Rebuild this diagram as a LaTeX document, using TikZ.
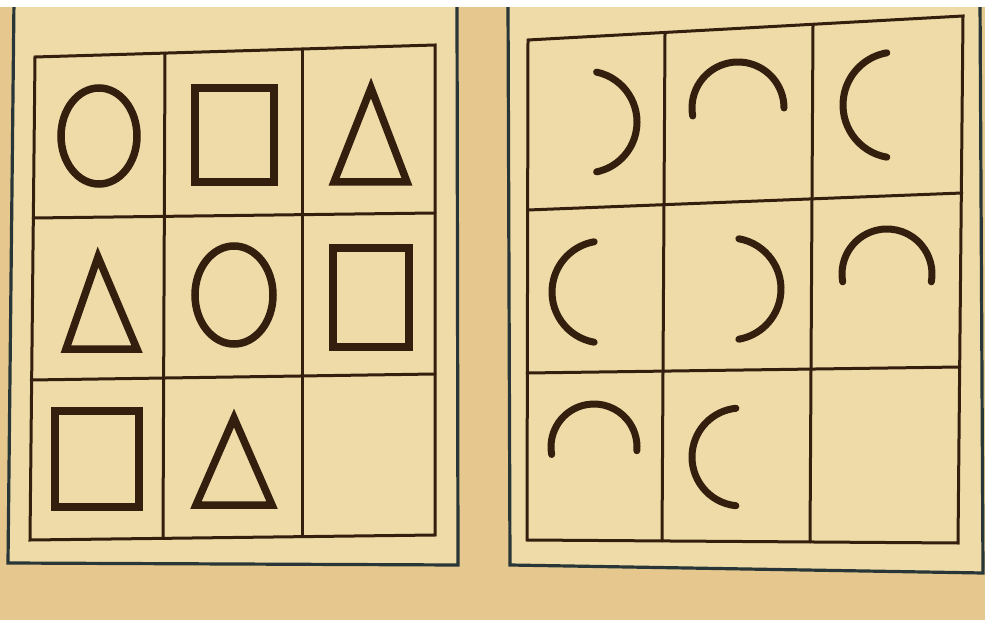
\documentclass[tikz,border=0pt]{standalone}
\usepackage{tikz}
\usetikzlibrary{calc}
\definecolor{fondo}{RGB}{230,200,142}
\definecolor{papel}{RGB}{239,219,168}
\definecolor{borde}{RGB}{40,54,56}
\definecolor{tinta}{RGB}{52,30,14}
\tikzset{
  hoja/.style={draw=borde, line width=3.2pt, fill=papel},
  rejilla/.style={draw=tinta, line width=3pt, line cap=round},
  figura/.style={draw=tinta, line width=7.5pt, line join=miter},
  arco/.style={draw=tinta, line width=7pt, line cap=round},
}
\begin{document}
\begin{tikzpicture}[x=1pt,y=-1pt]
  \useasboundingbox (0,0) rectangle (985,620);
  \fill[fondo] (0,0) rectangle (985,620);
  % the two sheets
  \draw[hoja] (14,0) -- (8,563) -- (458,565) -- (457,0);
  \draw[hoja] (508,0) -- (510,565) -- (983,573) -- (980,0);
  \fill[white] (0,0) rectangle (985,7);

  % left grid: circle, square, triangle
  \coordinate (lTL) at (35,57);  \coordinate (lTR) at (435,45);
  \coordinate (lBL) at (30,540); \coordinate (lBR) at (435,535);
  \draw[rejilla] (lTL) -- (lTR) -- (lBR) -- (lBL) -- cycle;
  \draw[rejilla] (165,53) -- (163,538);
  \draw[rejilla] (302,49) -- (302,536);
  \draw[rejilla] (33,218) -- (435,213);
  \draw[rejilla] (31,380) -- (435,374);

  \draw[figura] (99,136) ellipse[x radius=38, y radius=48];
  \draw[figura] (195,88) rectangle (274,182);
  \draw[figura] (371,88) -- (407,182) -- (334,182) -- cycle;
  \draw[figura] (98,257) -- (137,349) -- (66,349) -- cycle;
  \draw[figura] (234,295) ellipse[x radius=39, y radius=49];
  \draw[figura] (333,248) rectangle (409,347);
  \draw[figura] (55,411) rectangle (139,507);
  \draw[figura] (234,418) -- (272,505) -- (196,505) -- cycle;

  % right grid: arcs
  \coordinate (rTL) at (528,40);  \coordinate (rTR) at (963,16);
  \coordinate (rBL) at (527,540); \coordinate (rBR) at (958,543);
  \draw[rejilla] (rTL) -- (rTR) -- (rBR) -- (rBL) -- cycle;
  \draw[rejilla] (665,34) -- (662,541);
  \draw[rejilla] (813,25) -- (810,542);
  \draw[rejilla] (528,210) -- (962,193);
  \draw[rejilla] (527,373) -- (960,367);

  \draw[arco] (586,122) ++(-78:51) arc[start angle=-78, end angle=78, radius=51];
  \draw[arco] (738,108) ++(170:46) arc[start angle=170, end angle=360, radius=46];
  \draw[arco] (896,105) ++(100:53) arc[start angle=100, end angle=260, radius=53];
  \draw[arco] (603,292) ++(100:51) arc[start angle=100, end angle=260, radius=51];
  \draw[arco] (730,289) ++(-80:51) arc[start angle=-80, end angle=80, radius=51];
  \draw[arco] (887,274) ++(170:45) arc[start angle=170, end angle=370, radius=45];
  \draw[arco] (594,447) ++(170:43) arc[start angle=170, end angle=365, radius=43];
  \draw[arco] (741,457) ++(96:49) arc[start angle=96, end angle=264, radius=49];
\end{tikzpicture}
\end{document}
